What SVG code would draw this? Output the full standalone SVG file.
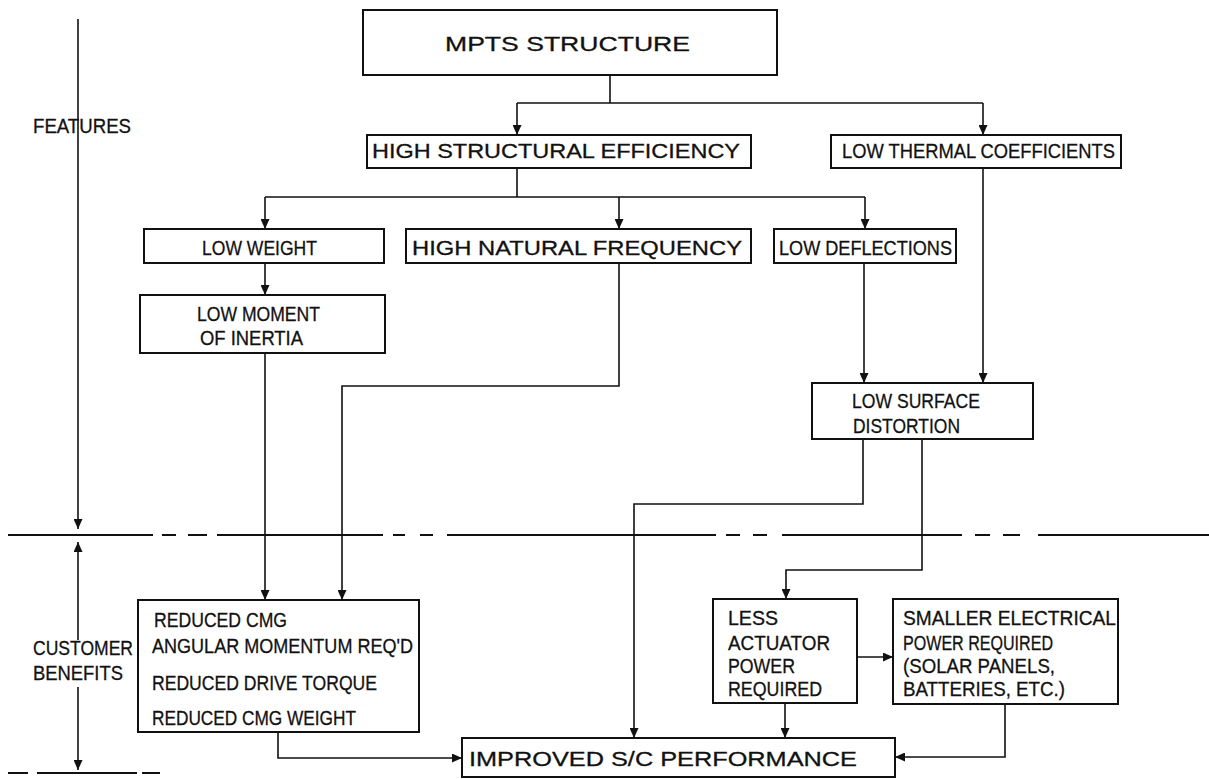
<svg xmlns="http://www.w3.org/2000/svg" width="1209" height="779" viewBox="0 0 1209 779">
<style>
.box{fill:#fff;stroke:#111;stroke-width:2}
.ln{fill:none;stroke:#111;stroke-width:1.6}
.dl{fill:none;stroke:#111;stroke-width:2}
.ar{fill:none;stroke:#111;stroke-width:1.6;marker-end:url(#ah)}
text{font-family:"Liberation Sans",Arial,sans-serif;font-size:21px;fill:#111;stroke:#111;stroke-width:0.3}
</style>
<defs>
<marker id="ah" markerUnits="userSpaceOnUse" markerWidth="10" markerHeight="9" refX="10" refY="4.5" orient="auto">
<path d="M0,0 L10,4.5 L0,9 z" fill="#111"/>
</marker>
</defs>
<rect width="1209" height="779" fill="#fff"/>
<g id="connectors">
<path class="ln" d="M610,75 V103 M517,103 H983"/>
<path class="ar" d="M517,103 V135"/>
<path class="ar" d="M983,103 V135"/>
<path class="ln" d="M517,168 V197 M265,197 H865"/>
<path class="ar" d="M265,197 V229"/>
<path class="ar" d="M619,197 V229"/>
<path class="ar" d="M865,197 V229"/>
<path class="ar" d="M265,263 V295"/>
<path class="ar" d="M265,353 V600"/>
<path class="ar" d="M619,263 V386 H342 V600"/>
<path class="ar" d="M864,263 V383"/>
<path class="ar" d="M983,168 V383"/>
<path class="ar" d="M863,439 V504 H634 V738"/>
<path class="ar" d="M922,439 V570 H786 V599"/>
<path class="ar" d="M857,657 H893"/>
<path class="ar" d="M785,703 V738"/>
<path class="ar" d="M1005,704 V757 H895"/>
<path class="ar" d="M278,732 V758 H462"/>
<path class="dl" d="M8,535 H153 M162,535 H176 M188,535 H207 M217,535 H383 M393,535 H405 M420,535 H433 M447,535 H716 M726,535 H740 M753,535 H767 M782,535 H962 M975,535 H990 M1003,535 H1020 M1038,535 H1209"/>
<path class="ar" d="M78,19 V529"/>
<path class="ar" d="M78,640 V542"/>
<path class="ar" d="M78,687 V770"/>
<path class="dl" d="M8,773 H28 M37,773 H137 M142,773 H160"/>
</g>
<g id="label-features"><text x="33" y="133" textLength="98" lengthAdjust="spacingAndGlyphs">FEATURES</text></g>
<g id="label-benefits">
<text x="33" y="655" textLength="100" lengthAdjust="spacingAndGlyphs">CUSTOMER</text>
<text x="33" y="680" textLength="90" lengthAdjust="spacingAndGlyphs">BENEFITS</text>
</g>
<g id="mpts"><rect class="box" x="363" y="10" width="414" height="65"/><text x="445" y="51" textLength="245" lengthAdjust="spacingAndGlyphs">MPTS STRUCTURE</text></g>
<g id="hse"><rect class="box" x="367" y="135" width="384" height="33"/><text x="372" y="158" textLength="368" lengthAdjust="spacingAndGlyphs">HIGH STRUCTURAL EFFICIENCY</text></g>
<g id="ltc"><rect class="box" x="831" y="135" width="290" height="33"/><text x="842" y="158" textLength="273" lengthAdjust="spacingAndGlyphs">LOW THERMAL COEFFICIENTS</text></g>
<g id="lw"><rect class="box" x="144" y="229" width="240" height="34"/><text x="202" y="255" textLength="115" lengthAdjust="spacingAndGlyphs">LOW WEIGHT</text></g>
<g id="hnf"><rect class="box" x="406" y="229" width="345" height="34"/><text x="412" y="255" textLength="330" lengthAdjust="spacingAndGlyphs">HIGH NATURAL FREQUENCY</text></g>
<g id="ld"><rect class="box" x="774" y="229" width="182" height="34"/><text x="779" y="255" textLength="173" lengthAdjust="spacingAndGlyphs">LOW DEFLECTIONS</text></g>
<g id="lmi"><rect class="box" x="140" y="295" width="245" height="58"/>
<text x="197" y="321" textLength="123" lengthAdjust="spacingAndGlyphs">LOW MOMENT</text>
<text x="200" y="345" textLength="103" lengthAdjust="spacingAndGlyphs">OF INERTIA</text></g>
<g id="lsd"><rect class="box" x="812" y="383" width="221" height="56"/>
<text x="852" y="408" textLength="128" lengthAdjust="spacingAndGlyphs">LOW SURFACE</text>
<text x="853" y="433" textLength="107" lengthAdjust="spacingAndGlyphs">DISTORTION</text></g>
<g id="rcmg"><rect class="box" x="138" y="600" width="281" height="132"/>
<text x="154" y="627" textLength="133" lengthAdjust="spacingAndGlyphs">REDUCED CMG</text>
<text x="152" y="653" textLength="261" lengthAdjust="spacingAndGlyphs">ANGULAR MOMENTUM REQ'D</text>
<text x="152" y="690" textLength="225" lengthAdjust="spacingAndGlyphs">REDUCED DRIVE TORQUE</text>
<text x="152" y="725" textLength="204" lengthAdjust="spacingAndGlyphs">REDUCED CMG WEIGHT</text></g>
<g id="lap"><rect class="box" x="713" y="599" width="144" height="104"/>
<text x="728" y="625" textLength="50" lengthAdjust="spacingAndGlyphs">LESS</text>
<text x="728" y="650" textLength="102" lengthAdjust="spacingAndGlyphs">ACTUATOR</text>
<text x="728" y="673" textLength="67" lengthAdjust="spacingAndGlyphs">POWER</text>
<text x="728" y="696" textLength="94" lengthAdjust="spacingAndGlyphs">REQUIRED</text></g>
<g id="sep"><rect class="box" x="893" y="599" width="225" height="105"/>
<text x="903" y="625" textLength="213" lengthAdjust="spacingAndGlyphs">SMALLER ELECTRICAL</text>
<text x="903" y="650" textLength="150" lengthAdjust="spacingAndGlyphs">POWER REQUIRED</text>
<text x="903" y="673" textLength="152" lengthAdjust="spacingAndGlyphs">(SOLAR PANELS,</text>
<text x="903" y="696" textLength="162" lengthAdjust="spacingAndGlyphs">BATTERIES, ETC.)</text></g>
<g id="isp"><rect class="box" x="462" y="738" width="433" height="39"/>
<text x="469" y="766" textLength="388" lengthAdjust="spacingAndGlyphs">IMPROVED S/C PERFORMANCE</text></g>
</svg>
